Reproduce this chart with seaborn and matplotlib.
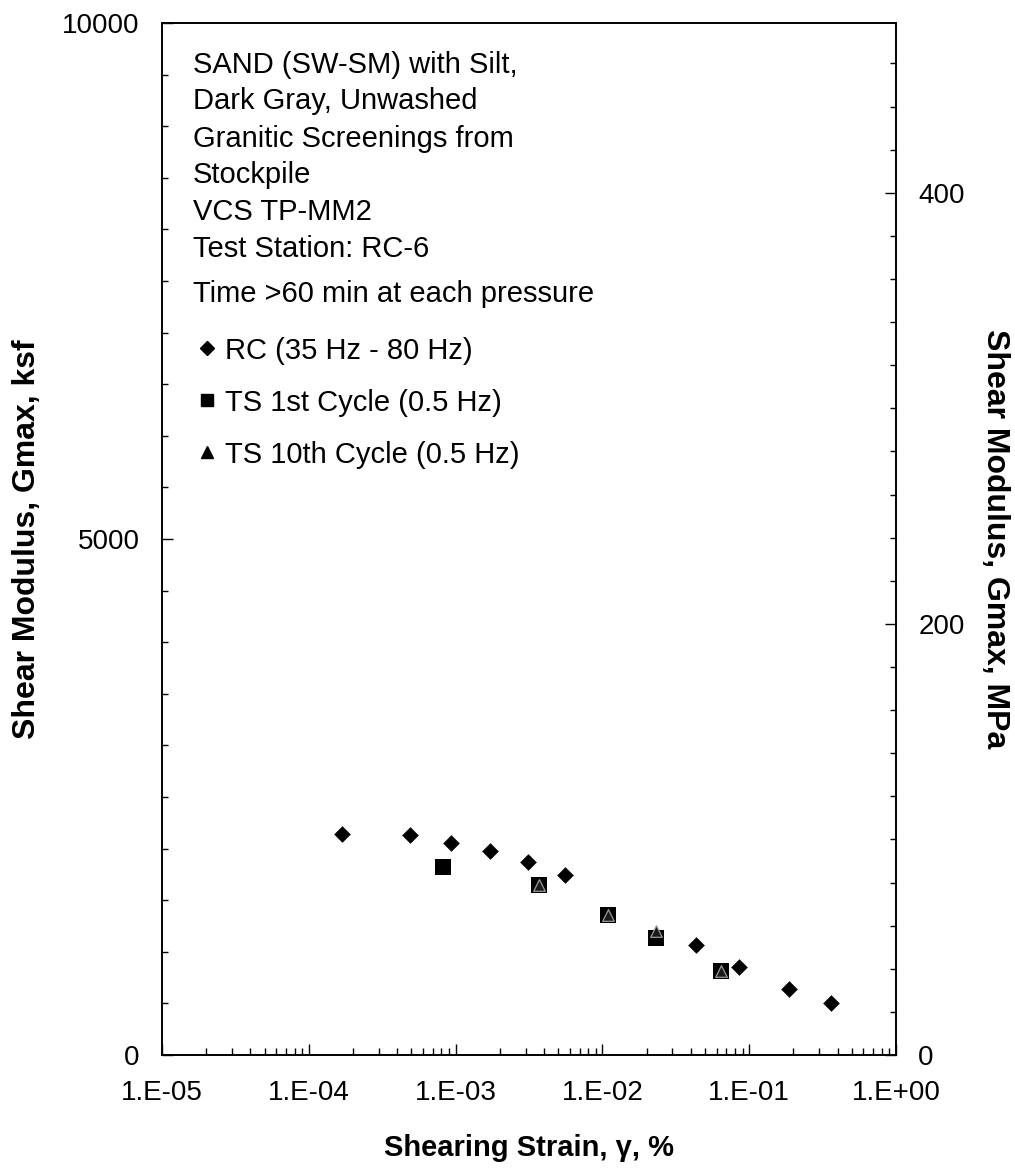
import numpy as np
import pandas as pd
import matplotlib
matplotlib.use("Agg")
import matplotlib.pyplot as plt
from matplotlib.lines import Line2D
from matplotlib.ticker import FixedLocator, MultipleLocator, LogLocator, FuncFormatter, NullFormatter
import seaborn as sns

# values
rc_strain = [1.69e-4, 4.91e-4, 9.35e-4, 1.71e-3, 3.13e-3, 5.56e-3, 4.35e-2, 8.57e-2, 1.875e-1, 3.62e-1]
rc_g = [2141, 2129, 2051, 1980, 1873, 1741, 1063, 853, 640, 504]

ts1_strain = [8.2e-4, 3.68e-3, 1.10e-2, 2.33e-2, 6.46e-2]
ts1_g = [1819, 1644, 1357, 1134, 817]

ts10_strain = [3.68e-3, 1.10e-2, 2.33e-2, 6.46e-2]
ts10_g = [1644, 1357, 1202, 817]

note_lines = ["SAND (SW-SM) with Silt,", "Dark Gray, Unwashed", "Granitic Screenings from",
              "Stockpile", "VCS TP-MM2", "Test Station: RC-6", "Time >60 min at each pressure"]
series_labels = ["RC (35 Hz - 80 Hz)", "TS 1st Cycle (0.5 Hz)", "TS 10th Cycle (0.5 Hz)"]

KSF_TO_MPA = 0.04788

rc = pd.DataFrame({"strain": rc_strain, "G": rc_g})
ts1 = pd.DataFrame({"strain": ts1_strain, "G": ts1_g})
ts10 = pd.DataFrame({"strain": ts10_strain, "G": ts10_g})

sns.set_style("ticks")
plt.rcParams['font.family'] = ['Liberation Sans', 'DejaVu Sans']
plt.rcParams.update({"text.color": "black", "axes.labelcolor": "black",
                     "xtick.color": "black", "ytick.color": "black",
                     "axes.edgecolor": "black"})

fig = plt.figure(figsize=(10.15, 11.71), dpi=100)
ax = fig.add_axes([0.1596, 0.0991, 0.7232, 0.8813])

sns.scatterplot(data=rc, x="strain", y="G", marker="D", s=72, color="black",
                edgecolor="black", linewidth=0, ax=ax, zorder=3, legend=False)
sns.scatterplot(data=ts1, x="strain", y="G", marker="s", s=130, color="black",
                edgecolor="black", linewidth=0, ax=ax, zorder=3, legend=False)
sns.scatterplot(data=ts10, x="strain", y="G", marker="^", s=70, color="#1a1a1a",
                edgecolor="#9a9a9a", linewidth=0.9, ax=ax, zorder=4, legend=False)

ax.set_xscale("log")
ax.set_xlim(1e-5, 1)
ax.set_ylim(0, 10000)

ax.xaxis.set_major_locator(LogLocator(base=10, numticks=10))
ax.xaxis.set_minor_locator(LogLocator(base=10, subs=np.arange(2, 10), numticks=10))
ax.xaxis.set_major_formatter(FuncFormatter(lambda v, p: "1.E%+03d" % int(round(np.log10(v)))))
ax.xaxis.set_minor_formatter(NullFormatter())
ax.yaxis.set_major_locator(FixedLocator([0, 5000, 10000]))
ax.yaxis.set_minor_locator(MultipleLocator(500))

ax.tick_params(axis="x", which="major", direction="in", length=8, width=1, pad=18, labelsize=20)
ax.tick_params(axis="x", which="minor", direction="in", length=5, width=1)
ax.tick_params(axis="y", which="major", direction="in", length=8, width=1, pad=16, labelsize=20)
ax.tick_params(axis="y", which="minor", direction="in", length=4, width=1)
for sp in ax.spines.values():
    sp.set_linewidth(1.2)
    sp.set_color("black")

ax.set_xlabel("Shearing Strain, γ, %", fontsize=21, fontweight="bold")
ax.xaxis.set_label_coords(0.5, -0.077)
ax.set_ylabel("Shear Modulus, Gmax, ksf", fontsize=23, fontweight="bold", va="center")
ax.yaxis.set_label_coords(-0.184, 0.5)

ax2 = ax.twinx()
ax2.set_ylim(0, 10000 * KSF_TO_MPA)
ax2.yaxis.set_major_locator(FixedLocator([0, 200, 400]))
ax2.yaxis.set_minor_locator(MultipleLocator(20))
ax2.tick_params(axis="y", which="major", direction="in", length=8, width=1, pad=16, labelsize=20)
ax2.tick_params(axis="y", which="minor", direction="in", length=4, width=1)
ax2.set_ylabel("Shear Modulus, Gmax, MPa", fontsize=23, fontweight="bold",
               rotation=-90, va="center")
ax2.yaxis.set_label_coords(1.135, 0.5)
for sp in ax2.spines.values():
    sp.set_linewidth(1.2)
    sp.set_color("black")

# description block, baselines in pixels from the top of the figure
note_base = [73, 109, 147, 183, 220, 257, 302]
for txt, yb in zip(note_lines, note_base):
    ax.text(0.0418, (1055 - yb) / 1032, txt, transform=ax.transAxes,
            fontsize=21, ha="left", va="baseline")

handles = [
    Line2D([], [], marker="D", color="black", linestyle="none", markersize=7),
    Line2D([], [], marker="s", color="black", linestyle="none", markersize=8.5),
    Line2D([], [], marker="^", color="black", linestyle="none", markersize=9),
]
ax2.legend(handles, series_labels, loc="upper left", bbox_to_anchor=(0.048, 0.696),
           frameon=False, fontsize=21, handlelength=0.7, handletextpad=0.25,
           labelspacing=0.82, borderpad=0, borderaxespad=0)

fig.savefig("out.png", dpi=100, facecolor="white")
